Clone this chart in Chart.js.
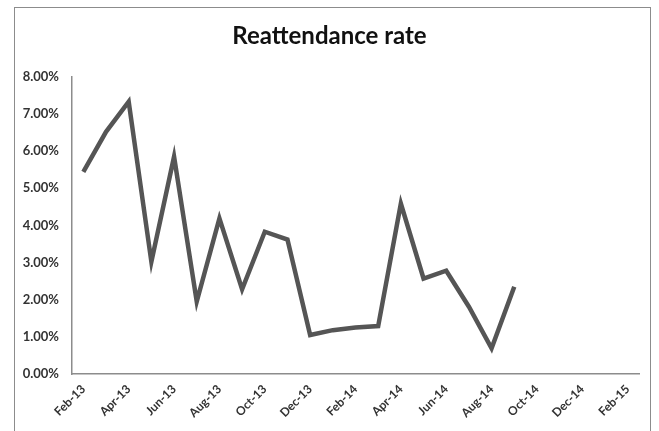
<!DOCTYPE html>
<html>
<head>
<meta charset="utf-8">
<script src="https://cdn.jsdelivr.net/npm/chart.js@4/dist/chart.umd.min.js"></script>
<style>
  html, body { margin: 0; padding: 0; background: #fff; }
  #wrap { position: relative; width: 659px; height: 431px; overflow: hidden; }
  #frame { position: absolute; left: 14px; top: 7px; width: 637px; height: 440px; border: 1.5px solid #8c8c8c; box-sizing: border-box; }
  canvas { position: absolute; left: 0; top: 0; }
</style>
</head>
<body>
<div id="wrap">
  <div id="frame"></div>
  <canvas id="c" width="659" height="431"></canvas>
</div>
<script>
// Monthly axis slots, Feb-13 through Feb-15
const months = ['Feb-13','Mar-13','Apr-13','May-13','Jun-13','Jul-13','Aug-13','Sep-13','Oct-13','Nov-13','Dec-13','Jan-14',
                'Feb-14','Mar-14','Apr-14','May-14','Jun-14','Jul-14','Aug-14','Sep-14','Oct-14','Nov-14','Dec-14','Jan-15','Feb-15'];
// Reattendance rate (%) per month, recorded Feb-13 to Sep-14
const reattendance = [5.44, 6.52, 7.33, 3.02, 5.85, 1.95, 4.19, 2.28, 3.83, 3.62, 1.05, 1.18,
                      1.25, 1.29, 4.59, 2.57, 2.78, 1.81, 0.69, 2.35, null, null, null, null, null];
const yTicks = [0, 1, 2, 3, 4, 5, 6, 7, 8];

const FONT = 'Lato, "Open Sans", sans-serif';

new Chart(document.getElementById('c'), {
  type: 'line',
  data: {
    labels: months,
    datasets: [{
      data: reattendance,
      borderColor: '#555555',
      borderWidth: 4.5,
      pointRadius: 0,
      tension: 0,
      spanGaps: false,
      borderJoinStyle: 'miter'
    }]
  },
  options: {
    responsive: false,
    animation: false,
    layout: { padding: { left: 20, right: 20, top: 22, bottom: 0 } },
    plugins: {
      legend: { display: false },
      tooltip: { enabled: false },
      title: {
        display: true,
        text: 'Reattendance rate',
        color: '#111',
        font: { family: FONT, size: 24, weight: 'bold', lineHeight: 1.2 },
        padding: { top: 0, bottom: 26 }
      }
    },
    scales: {
      x: {
        type: 'category',
        offset: true,
        afterFit: function (s) { s.height = 57; },
        grid: { display: false, drawTicks: false },
        border: { display: true, color: '#8c8c8c', width: 1.5 },
        ticks: {
          autoSkip: false,
          maxRotation: 45,
          minRotation: 45,
          padding: 8,
          color: '#333',
          font: { family: FONT, size: 12, weight: 'bold' },
          callback: function (v, i) { return i % 2 === 0 ? months[i] : ''; }
        }
      },
      y: {
        min: 0,
        max: 8,
        afterBuildTicks: function (s) { s.ticks = yTicks.map(v => ({ value: v })); },
        afterFit: function (s) { s.width = 52; },
        grid: { display: false, drawTicks: false },
        border: { display: true, color: '#8c8c8c', width: 1.5 },
        ticks: {
          padding: 13,
          color: '#333',
          font: { family: FONT, size: 13, weight: 'bold' },
          callback: function (v) { return v.toFixed(2) + '%'; }
        }
      }
    }
  }
});
</script>
</body>
</html>
